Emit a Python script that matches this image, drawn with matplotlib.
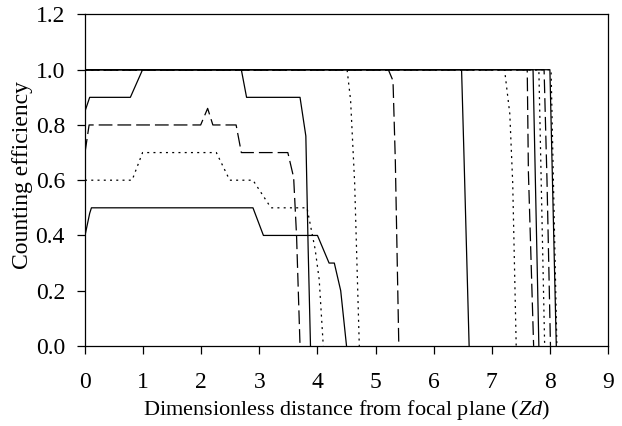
import matplotlib
matplotlib.use("Agg")
from matplotlib import pyplot as plt

# curves that start below 1.0
solid_a_x = [0, 0.08, 0.78, 0.99, 2.69, 2.78, 3.70, 3.80, 3.84, 3.88]
solid_a_y = [0.85, 0.9, 0.9, 1.0, 1.0, 0.9, 0.9, 0.76, 0.35, 0.0]

dashed_a_x = [0, 0.07, 1.99, 2.11, 2.2, 2.6, 2.69, 3.49, 3.59, 3.64, 3.70]
dashed_a_y = [0.7, 0.8, 0.8, 0.86, 0.8, 0.8, 0.7, 0.7, 0.61, 0.4, 0.0]

dotted_a_x = [0, 0.81, 0.99, 2.26, 2.49, 2.89, 3.2, 3.82, 3.96, 4.03, 4.10]
dotted_a_y = [0.6, 0.6, 0.7, 0.7, 0.6, 0.6, 0.5, 0.5, 0.35, 0.24, 0.0]

solid_b_x = [0, 0.08, 0.11, 2.89, 3.07, 4.0, 4.2, 4.29, 4.40, 4.50]
solid_b_y = [0.4, 0.48, 0.5, 0.5, 0.4, 0.4, 0.3, 0.3, 0.2, 0.0]

# curves that start at 1.0 and fall off
dotted_b_x = [0, 4.51, 4.57, 4.64, 4.72]
dotted_b_y = [1.0, 1.0, 0.89, 0.59, 0.0]

dashed_b_x = [0, 5.22, 5.30, 5.34, 5.40]
dashed_b_y = [1.0, 1.0, 0.96, 0.67, 0.0]

solid_c_x = [0, 6.48, 6.52, 6.61]
solid_c_y = [1.0, 1.0, 0.7, 0.0]

dotted_c_x = [0, 7.22, 7.31, 7.36, 7.42]
dotted_c_y = [1.0, 1.0, 0.84, 0.59, 0.0]

dashed_c_x = [0, 7.61, 7.63, 7.72]
dashed_c_y = [1.0, 1.0, 0.63, 0.0]

solid_d_x = [0, 7.71, 7.81]
solid_d_y = [1.0, 1.0, 0.0]

dotted_d_x = [0, 7.81, 7.91]
dotted_d_y = [1.0, 1.0, 0.0]

dashed_d_x = [0, 7.90, 7.95, 8.01]
dashed_d_y = [1.0, 1.0, 0.6, 0.0]

solid_e_x = [0, 8.0, 8.11]
solid_e_y = [1.0, 1.0, 0.0]

dotted_e_x = [0, 8.02, 8.12]
dotted_e_y = [1.0, 1.0, 0.0]

x_ticks = [0, 1, 2, 3, 4, 5, 6, 7, 8, 9]
y_ticks = [0.0, 0.2, 0.4, 0.6, 0.8, 1.0, 1.2]

plt.rcParams["font.family"] = ["Liberation Serif", "DejaVu Serif"]
plt.rcParams["mathtext.fontset"] = "custom"
plt.rcParams["mathtext.rm"] = "Liberation Serif"
plt.rcParams["mathtext.it"] = "Liberation Serif:italic"

fig = plt.figure(figsize=(6.22, 4.26), dpi=100)
ax = fig.add_axes([0.1367, 0.188, 0.8408, 0.778])

SOLID = "-"
DASHED = (0, (11, 4))
DOTTED = (0, (1.6, 3.4))

curves = [
    (solid_a_x, solid_a_y, SOLID),
    (dashed_a_x, dashed_a_y, DASHED),
    (dotted_a_x, dotted_a_y, DOTTED),
    (solid_b_x, solid_b_y, SOLID),
    (dotted_b_x, dotted_b_y, DOTTED),
    (dashed_b_x, dashed_b_y, DASHED),
    (solid_c_x, solid_c_y, SOLID),
    (dotted_c_x, dotted_c_y, DOTTED),
    (dashed_c_x, dashed_c_y, DASHED),
    (solid_d_x, solid_d_y, SOLID),
    (dotted_d_x, dotted_d_y, DOTTED),
    (dashed_d_x, dashed_d_y, DASHED),
    (solid_e_x, solid_e_y, SOLID),
    (dotted_e_x, dotted_e_y, DOTTED),
]
for xs, ys, ls in curves:
    ax.plot(xs, ys, color="black", linestyle=ls, linewidth=0.9)

ax.set_xlim(0, 9)
ax.set_ylim(0, 1.2)
ax.set_xticks(x_ticks)
ax.set_yticks(y_ticks)
ax.set_xticklabels([str(t) for t in x_ticks])
ax.set_yticklabels([f"{t:.1f}" for t in y_ticks])
ax.tick_params(direction="out", length=5.5, width=0.9, labelsize=17,
               colors="black")
ax.tick_params(axis="y", pad=9)
ax.tick_params(axis="x", pad=13)
for side in ax.spines.values():
    side.set_linewidth(0.9)

ax.set_xlabel("Dimensionless distance from focal plane ($Zd$)",
              fontsize=16, labelpad=4)
ax.set_ylabel("Counting efficiency", fontsize=17)
ax.yaxis.set_label_coords(-0.1, 0.515)

fig.savefig("out.png", dpi=100)
